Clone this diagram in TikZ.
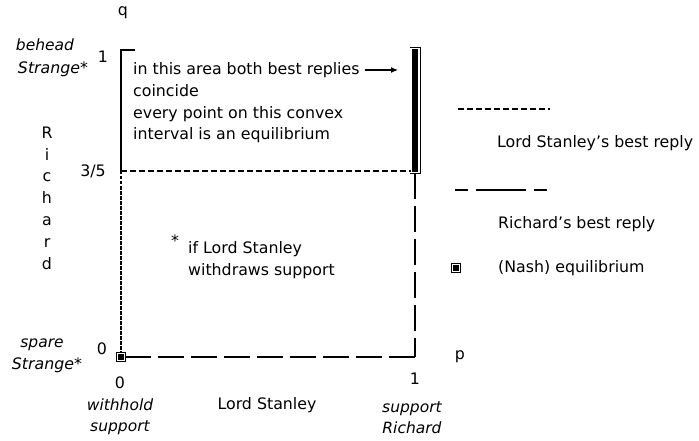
\documentclass[tikz,border=0pt]{standalone}
\usepackage{fontspec}
\setmainfont{DejaVu Sans}
\usetikzlibrary{arrows.meta}

\begin{document}
\begin{tikzpicture}
[
    x=1pt, y=-1pt,
    every node/.style={font=\fontsize{15.8}{21.5}\selectfont, inner sep=0pt},
    lab/.style={font=\fontsize{15.5}{21}\selectfont\itshape, align=center},
    frame/.style={line width=1.1pt},
    stanley/.style={line width=1.1pt, dash pattern=on 6pt off 3pt},
    stanley vert/.style={line width=1.1pt, dash pattern=on 3.5pt off 1.5pt},
    richard/.style={line width=1.1pt, dash pattern=on 26pt off 7pt},
    eqmark/.style={draw, fill=black, double=white, double distance=1.4pt, line width=.8pt, minimum size=7pt},
]
\useasboundingbox (0,0) rectangle (699,441);

% corners of the square of mixed strategies
\coordinate (O) at (121,357);
\coordinate (Q1) at (121,50);
\coordinate (Q35) at (121,171);
\coordinate (P1) at (415,357);
\coordinate (tick) at (135,50);

\node[eqmark] (eq) at (O) {};
\node[draw, fill=black, double=white, double distance=1.6pt, line width=.8pt,
      minimum width=7.8pt, minimum height=123.8pt] (bar) at (415,110.5) {};

\draw[frame] (tick) -- (Q1) -- (Q35);
\draw[stanley vert] (Q35) -- (eq.north);
\draw[stanley] (Q35) -- (Q35 -| bar.west);
\draw[richard] (eq.east) -- (P1);
\draw[richard] (bar.south) -- (P1);

% axis labels
\node (q) at (123,13) {q};
\node (p) at (460,357) {p};
\node (one q) at (103,57) {1};
\node (three fifths) at (93,171) {3/5};
\node (zero q) at (102,349) {0};
\node[lab] (behead) at (45,45) {behead};
\node (strange top) at (53,69) {\itshape Strange\upshape*};
\node[lab] (spare) at (42,345) {spare};
\node (strange bot) at (47,365) {\itshape Strange\upshape*};
\node[align=center, font=\fontsize{15.8}{21.8}\selectfont] (richard axis) at (47,198) {R\\i\\c\\h\\a\\r\\d};

\node (zero p) at (120,383) {0};
\node[lab] (withhold) at (120,417) {withhold\\support};
\node (stanley axis) at (267,405) {Lord Stanley};
\node (one p) at (415,379) {1};
\node[lab] (support) at (412,418) {support\\Richard};

% notes inside the square
\node[anchor=west] (both) at (133,70) {in this area both best replies};
\coordinate (bar tip) at (398,70);
\draw[-{Latex[length=7pt,width=6pt]}, line width=1.1pt, shorten <=5pt] (both.east) -- (bar tip);
\node[anchor=north west, align=left] (convex) at (133,84.3) {coincide\\every point on this convex\\interval is an equilibrium};
\node (star) at (175,241) {*};
\node[anchor=north west, align=left] (withdraw) at (188,241.3) {if Lord Stanley\\withdraws support};

% legend
\coordinate (leg s1) at (458,109);
\coordinate (leg s2) at (550,109);
\draw[stanley] (leg s1) -- (leg s2);
\node[anchor=west] (leg stanley) at (497,143) {Lord Stanley's best reply};
\coordinate (leg r1) at (455,190);
\coordinate (leg r2) at (547,190);
\draw[line width=1.1pt, dash pattern=on 13pt off 8pt on 50pt off 8pt] (leg r1) -- (leg r2);
\node[anchor=west] (leg richard) at (498,224) {Richard's best reply};
\node[eqmark] (leg eq) at (456,268) {};
\node[anchor=west] (leg nash) at (498,268) {(Nash) equilibrium};
\end{tikzpicture}
\end{document}
